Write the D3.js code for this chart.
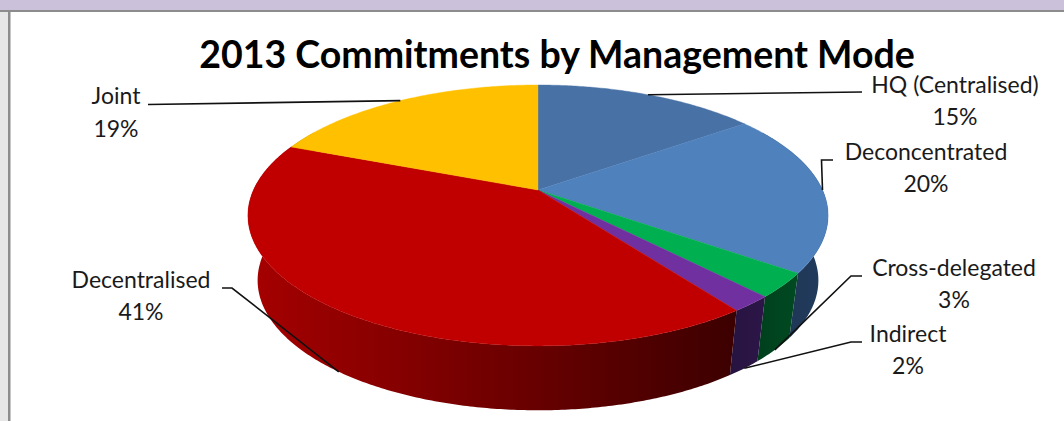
<!DOCTYPE html>
<html>
<head>
<meta charset="utf-8">
<script src="https://cdn.jsdelivr.net/npm/d3@7/dist/d3.min.js"></script>
<style>
html,body{margin:0;padding:0;background:#fff;overflow:hidden}
svg{display:block}
text{font-family:Lato,"Open Sans",sans-serif;fill:#1a1a1a}
</style>
</head>
<body>
<svg id="chart" width="1064" height="421"></svg>
<script>
// Commitment shares, clockwise from twelve o'clock
const modes = ["HQ (Centralised)", "Deconcentrated", "Cross-delegated", "Indirect", "Decentralised", "Joint"];
const shares = [15, 20, 3, 2, 41, 19];
const titleText = "2013 Commitments by Management Mode";

// Styling per slice: face colour and side-wall shading (left to right)
const faceColors = ["#4872a6", "#4f81bd", "#00b050", "#7030a0", "#c00000", "#ffc000"];
const wallColors = [
  ["#2a466c", "#2a466c"],
  ["#1c3350", "#223c5e"],
  ["#00401c", "#004a22"],
  ["#271340", "#2c1648"],
  ["#a60000", "#3c0000"],
  ["#a08000", "#a08000"]
];

// Label placement: centre x, first and second baselines, and leader elbow
const labelLayout = [
  {x: 955, y1: 93,  y2: 125, elbow: [[862, 92]], onBase: false},
  {x: 926, y1: 160, y2: 192, elbow: [[833, 160], [821.5, 160]], onBase: false},
  {x: 954, y1: 276, y2: 308, elbow: [[862, 276], [851, 276]], onBase: true},
  {x: 908, y1: 342, y2: 374, elbow: [[862, 342], [851, 342]], onBase: true},
  {x: 141, y1: 288, y2: 320, elbow: [[222, 288], [232, 288]], onBase: true},
  {x: 116, y1: 104, y2: 137, elbow: [[148, 104.5]], onBase: false}
];

const svg = d3.select("#chart");

// Page furniture around the chart frame
svg.append("rect").attr("width", 1064).attr("height", 421).attr("fill", "#fff");
svg.append("rect").attr("width", 8).attr("height", 421).attr("fill", "#e6e6e6");
svg.append("rect").attr("x", 8).attr("y", 10).attr("width", 2.5).attr("height", 411).attr("fill", "#8c8c8c");
svg.append("rect").attr("width", 1064).attr("height", 10).attr("fill", "#ccc1da");
svg.append("rect").attr("x", 0).attr("y", 10).attr("width", 1064).attr("height", 2).attr("fill", "#8c8c8c");

// Perspective projection of the unit disc onto the page
const tilt = 0.195;
const project = (geom, a) => {
  const u = Math.sin(a), v = -Math.cos(a), w = 1 - tilt * v;
  return [geom.cx + geom.rx * u / w, geom.cy + geom.ry * v / w];
};
const rim  = {cx: 538, cy: 190, rx: 284.5, ry: 125.5};
const base = {cx: 538, cy: 255, rx: 275, ry: 125};

const slices = d3.pie().sort(null).value(d => d)(shares);
const line = d3.line();
const sweep = (a0, a1) => {
  const n = Math.max(2, Math.ceil((a1 - a0) / 0.01));
  return d3.range(n + 1).map(i => a0 + (a1 - a0) * i / n);
};

// Side walls: only the arc facing the viewer can be seen
const defs = svg.append("defs");
const wallFrom = Math.PI / 3, wallTo = Math.PI * 5 / 3;
const walls = svg.append("g");
slices.forEach((s, i) => {
  const a0 = Math.max(s.startAngle, wallFrom), a1 = Math.min(s.endAngle, wallTo);
  if (a1 <= a0) return;
  const angles = sweep(a0, a1);
  const top = angles.map(a => project(rim, a));
  const bottom = angles.map(a => project(base, a)).reverse();
  const outline = top.concat(bottom);
  const xs = d3.extent(outline, p => p[0]);
  const grad = defs.append("linearGradient")
    .attr("id", "wall" + i).attr("gradientUnits", "userSpaceOnUse")
    .attr("x1", xs[0]).attr("x2", xs[1]).attr("y1", 0).attr("y2", 0);
  grad.append("stop").attr("offset", 0).attr("stop-color", wallColors[i][0]);
  grad.append("stop").attr("offset", 1).attr("stop-color", wallColors[i][1]);
  walls.append("path")
    .attr("d", line(outline) + "Z")
    .attr("fill", `url(#wall${i})`);
});

// Top faces
svg.append("g").selectAll("path").data(slices).join("path")
  .attr("d", s => line([project(rim, 0).map((_, k) => [rim.cx, rim.cy][k])]
    .concat(sweep(s.startAngle, s.endAngle).map(a => project(rim, a)))) + "Z")
  .attr("fill", (s, i) => faceColors[i])
  .attr("stroke", (s, i) => faceColors[i])
  .attr("stroke-width", 0.4);

// Leader lines run from each label to the middle of its slice
svg.append("g").selectAll("path").data(slices).join("path")
  .attr("d", (s, i) => {
    const mid = (s.startAngle + s.endAngle) / 2;
    const l = labelLayout[i];
    return line(l.elbow.concat([project(l.onBase ? base : rim, mid)]));
  })
  .attr("fill", "none")
  .attr("stroke", "#111")
  .attr("stroke-width", 1.6);

// Two-line data labels
const labels = svg.append("g").attr("font-size", 23).attr("text-anchor", "middle");
modes.forEach((m, i) => {
  const l = labelLayout[i];
  labels.append("text").attr("x", l.x).attr("y", l.y1).text(m);
  labels.append("text").attr("x", l.x).attr("y", l.y2).text(shares[i] + "%");
});

svg.append("text")
  .attr("x", 557).attr("y", 68)
  .attr("text-anchor", "middle")
  .attr("font-size", 37.5)
  .attr("font-weight", 700)
  .style("fill", "#000")
  .text(titleText);
</script>
</body>
</html>
